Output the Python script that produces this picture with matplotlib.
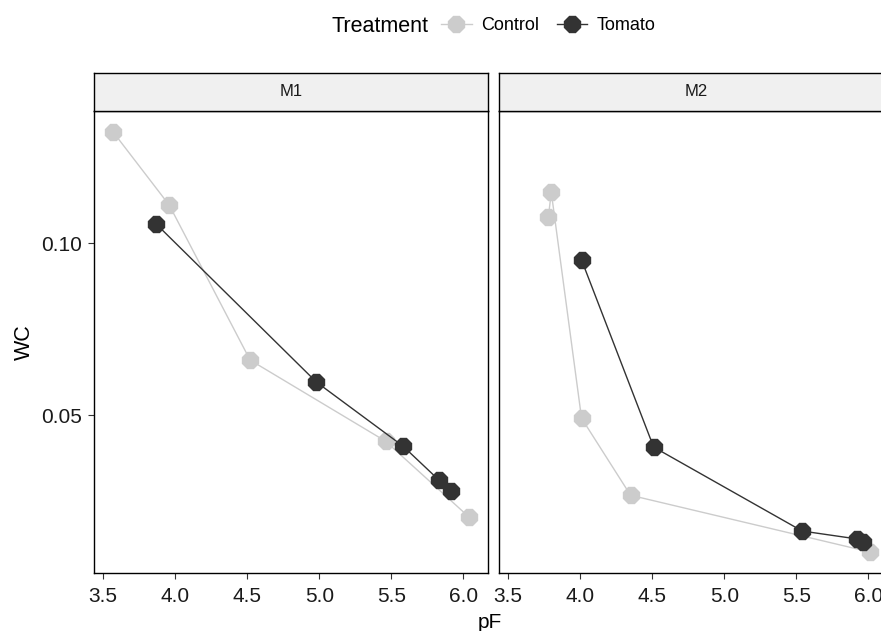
import matplotlib.pyplot as plt
from matplotlib.lines import Line2D

plt.rcParams['font.family'] = ['Liberation Sans', 'DejaVu Sans']

# data
m1_ctrl_pf = [3.57, 3.96, 4.52, 5.46, 6.04]
m1_ctrl_wc = [0.1323, 0.1110, 0.0660, 0.0424, 0.0203]
m1_tom_pf = [3.87, 4.98, 5.58, 5.83, 5.91]
m1_tom_wc = [0.1055, 0.0596, 0.0410, 0.0311, 0.0279]

m2_ctrl_pf = [3.78, 3.80, 4.01, 4.35, 6.01]
m2_ctrl_wc = [0.1076, 0.1148, 0.0491, 0.0267, 0.0102]
m2_tom_pf = [4.01, 4.51, 5.54, 5.92, 5.96]
m2_tom_wc = [0.0951, 0.0407, 0.0163, 0.0140, 0.0131]

panels = ['M1', 'M2']
xticks = [3.5, 4.0, 4.5, 5.0, 5.5, 6.0]
yticks = [0.05, 0.10]

ctrl_col = '#cccccc'
tom_col = '#333333'

W, H = 881, 631
fig = plt.figure(figsize=(W / 100, H / 100), dpi=100)

def fpos(x0, y0, x1, y1):
    return [x0 / W, 1 - y1 / H, (x1 - x0) / W, (y1 - y0) / H]

data = [
    (m1_ctrl_pf, m1_ctrl_wc, m1_tom_pf, m1_tom_wc),
    (m2_ctrl_pf, m2_ctrl_wc, m2_tom_pf, m2_tom_wc),
]
lefts = [94, 499]

for i, name in enumerate(panels):
    x0 = lefts[i]
    ax = fig.add_axes(fpos(x0, 111, x0 + 394, 573))
    cpf, cwc, tpf, twc = data[i]
    ax.plot(cpf, cwc, color=ctrl_col, lw=1, marker='8', ms=13, mec=ctrl_col, zorder=2)
    ax.plot(tpf, twc, color=tom_col, lw=1, marker='8', ms=13, mec=tom_col, zorder=3)
    ax.set_xlim(3.4375, 6.17)
    ax.set_ylim(0.0041, 0.1384)
    ax.set_xticks(xticks)
    ax.set_xticklabels([f'{v:.1f}' for v in xticks])
    ax.tick_params(labelsize=15, colors='#333333', length=4, width=0.8)
    ax.tick_params(axis='x', pad=6)
    ax.tick_params(axis='y', pad=5)
    ax.tick_params(labelcolor='#1a1a1a')
    for s in ax.spines.values():
        s.set_linewidth(1)
        s.set_color('black')
    ax.set_yticks(yticks)
    if i == 0:
        ax.set_yticklabels(['0.05', '0.10'])
    else:
        ax.set_yticklabels([])
        ax.tick_params(axis='y', length=0)

    sx = fig.add_axes(fpos(x0, 73, x0 + 394, 111))
    sx.set_facecolor('#f0f0f0')
    sx.set_xticks([])
    sx.set_yticks([])
    for s in sx.spines.values():
        s.set_linewidth(1)
        s.set_color('black')
    sx.text(0.5, 0.5, name, ha='center', va='center', fontsize=12,
            color='#1a1a1a', transform=sx.transAxes)

fig.text(24 / W, 1 - 342 / H, 'WC', ha='center', va='center', rotation=90, fontsize=15.5)
fig.text(490 / W, 1 - 628 / H, 'pF', ha='center', va='baseline', fontsize=15)

# legend
fig.text(428 / W, 1 - 26 / H, 'Treatment', ha='right', va='center', fontsize=15.5)
handles = [
    Line2D([], [], color=ctrl_col, lw=1, marker='8', ms=13, mec=ctrl_col),
    Line2D([], [], color=tom_col, lw=1, marker='8', ms=13, mec=tom_col),
]
fig.legend(handles, ['Control', 'Tomato'], ncol=2, frameon=False,
           loc='center left', bbox_to_anchor=(441 / W, 1 - 26 / H),
           fontsize=13, handlelength=1.7, handletextpad=0.5,
           columnspacing=1.0, borderpad=0, borderaxespad=0)

fig.savefig('out.png', dpi=100)
